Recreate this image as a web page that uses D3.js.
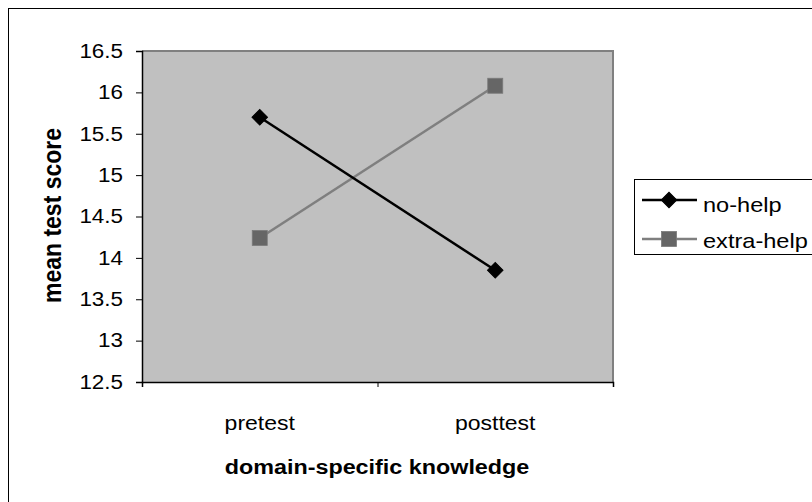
<!DOCTYPE html>
<html>
<head>
<meta charset="utf-8">
<script src="https://cdn.jsdelivr.net/npm/d3@7"></script>
<style>
  html, body { margin: 0; padding: 0; background: #fff; }
  text { font-family: "Liberation Sans", Arial, sans-serif; }
</style>
</head>
<body>
<svg id="chart" width="812" height="502"></svg>
<script>
const categories = ["pretest", "posttest"];
const noHelp = [15.70, 13.85];
const extraHelp = [14.24, 16.08];
const seriesNames = ["no-help", "extra-help"];
const yTicks = [12.5, 13, 13.5, 14, 14.5, 15, 15.5, 16, 16.5];

const SX = 1.15; // horizontal stretch of the original picture

const svg = d3.select("#chart");
const plot = { left: 142, right: 613, top: 51, bottom: 382 };

// outer border (right/bottom cut off)
svg.append("rect").attr("x", 8.5).attr("y", 8.5).attr("width", 820).attr("height", 520)
  .attr("fill", "#fff").attr("stroke", "#000").attr("stroke-width", 1);

const x = d3.scalePoint().domain(categories).range([plot.left, plot.right]).padding(0.5);
const xBand = d3.scaleBand().domain(categories).range([plot.left, plot.right]);
const y = d3.scaleLinear().domain([12.5, 16.5]).range([plot.bottom, plot.top]);

// plot area
svg.append("rect").attr("x", plot.left).attr("y", plot.top)
  .attr("width", plot.right - plot.left).attr("height", plot.bottom - plot.top)
  .attr("fill", "#c0c0c0");
// top & right gray border
svg.append("path")
  .attr("d", `M${plot.left},${plot.top}H${plot.right}V${plot.bottom}`)
  .attr("fill", "none").attr("stroke", "#808080").attr("stroke-width", 2);

function stretchText(g, xPos, yPos, txt, opts) {
  const t = g.append("text")
    .attr("transform", `translate(${xPos},${yPos}) scale(${SX},1)` + (opts.rotate ? ` rotate(${opts.rotate})` : ""))
    .attr("text-anchor", opts.anchor || "start")
    .attr("font-size", opts.size)
    .attr("font-weight", opts.weight || "normal")
    .attr("fill", "#000")
    .text(txt);
  if (opts.dy) t.attr("dy", opts.dy);
  return t;
}

// Y axis
const yAxis = d3.axisLeft(y).tickValues(yTicks).tickSize(6).tickFormat("");
const gy = svg.append("g").attr("transform", `translate(${plot.left},0)`).call(yAxis);
gy.select(".domain").attr("stroke", "#000").attr("stroke-width", 1.5);
gy.selectAll(".tick line").attr("stroke", "#000");
yTicks.forEach(v => {
  stretchText(svg, 123, y(v), d3.format("")(v), { anchor: "end", size: 19.5, dy: "0.35em" });
});

// X axis: ticks at category boundaries
const xTickPos = [plot.left, ...categories.map(c => xBand(c) + xBand.bandwidth())];
const xb = d3.scaleLinear().domain([plot.left, plot.right]).range([plot.left, plot.right]);
const xAxis = d3.axisBottom(xb).tickValues(xTickPos).tickSize(5).tickFormat("");
const gx = svg.append("g").attr("transform", `translate(0,${plot.bottom})`).call(xAxis);
gx.select(".domain").attr("stroke", "#000").attr("stroke-width", 1.5);
gx.selectAll(".tick line").attr("stroke", "#000");
categories.forEach(c => {
  stretchText(svg, x(c), 430, c, { anchor: "middle", size: 20 });
});

// axis titles
stretchText(svg, 377, 474, "domain-specific knowledge", { anchor: "middle", size: 20.3, weight: "bold" });
stretchText(svg, 60.5, 215.5, "mean test score", { anchor: "middle", size: 23, weight: "bold", rotate: -90 });

// lines
const line = d3.line().x((d, i) => x(categories[i])).y(d => y(d));
svg.append("path").datum(extraHelp).attr("d", line)
  .attr("fill", "none").attr("stroke", "#7f7f7f").attr("stroke-width", 2.5);
svg.append("path").datum(noHelp).attr("d", line)
  .attr("fill", "none").attr("stroke", "#000").attr("stroke-width", 2.5);

const diamond = d3.symbol().type(d3.symbolSquare).size(120);
function drawDiamond(cx, cy) {
  svg.append("path").attr("d", diamond())
    .attr("transform", `translate(${cx},${cy}) rotate(45)`)
    .attr("fill", "#000").attr("stroke", "#000").attr("stroke-width", 1);
}
function drawSquare(cx, cy) {
  svg.append("rect").attr("x", cx - 7.5).attr("y", cy - 7.5).attr("width", 15).attr("height", 15)
    .attr("fill", "#666").attr("stroke", "#7a7a7a").attr("stroke-width", 0.8);
}
extraHelp.forEach((v, i) => drawSquare(x(categories[i]), y(v)));
noHelp.forEach((v, i) => drawDiamond(x(categories[i]), y(v)));

// legend
const lg = { x: 634.5, y: 179.5, w: 200, h: 75 };
svg.append("rect").attr("x", lg.x).attr("y", lg.y).attr("width", lg.w).attr("height", lg.h)
  .attr("fill", "#fff").attr("stroke", "#000").attr("stroke-width", 1);
const legendRows = [
  { name: seriesNames[0], ly: 200, ty: 212, color: "#000", marker: drawDiamond },
  { name: seriesNames[1], ly: 239, ty: 248, color: "#7f7f7f", marker: drawSquare }
];
legendRows.forEach(r => {
  svg.append("line").attr("x1", 642).attr("x2", 697).attr("y1", r.ly).attr("y2", r.ly)
    .attr("stroke", r.color).attr("stroke-width", 2.5);
  r.marker(669, r.ly);
  stretchText(svg, 703, r.ty, r.name, { size: 20.5 });
});
</script>
</body>
</html>
